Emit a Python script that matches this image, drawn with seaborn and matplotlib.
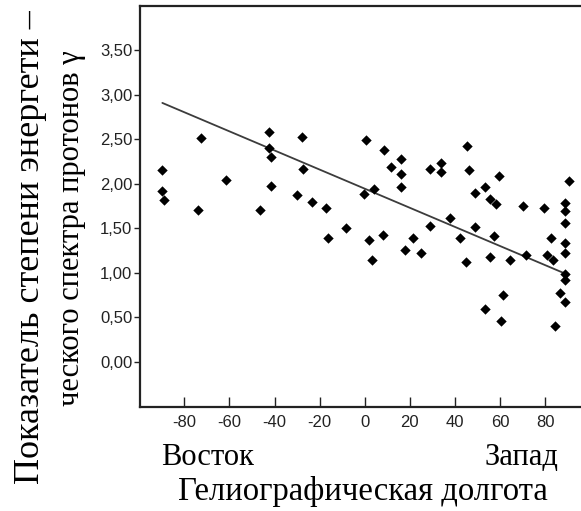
import numpy as np
import pandas as pd
import matplotlib
matplotlib.use("Agg")
import matplotlib.pyplot as plt
import seaborn as sns

# Heliographic longitude of the flare (deg)
longitude = [
    -89.7, -89.7, -88.9, -72.6, -73.8, -61.4, -42.3, -42.3, -41.6, -41.6,
    -46.5, -28.0, -27.3, -30.0, -23.3, -17.0, -16.2, -8.4,
    0.4, 8.4, 16.2, 11.4, 16.2, 16.2, -0.4, 4.3, 1.8, 8.1,
    3.4, 21.5, 17.7, 24.8, 28.8, 29.0, 33.6, 33.6,
    45.3, 46.2, 59.6, 48.7, 53.4, 55.6, 58.1, 69.9, 79.3, 88.8,
    88.8, 90.4, 88.8, 88.8, 88.8, 88.8, 88.8, 86.6, 88.8, 84.1,
    82.6, 80.8, 83.6, 71.5, 64.3, 61.2, 53.4, 60.3, 55.6, 44.7,
    57.2, 48.7, 42.3, 37.6,
]
# Proton spectrum power-law index gamma
gamma = [
    2.15, 1.92, 1.82, 2.51, 1.71, 2.04, 2.58, 2.40, 2.30, 1.98,
    1.71, 2.53, 2.17, 1.87, 1.79, 1.73, 1.39, 1.50,
    2.49, 2.38, 2.28, 2.19, 2.11, 1.96, 1.89, 1.94, 1.37, 1.43,
    1.14, 1.39, 1.26, 1.22, 1.53, 2.17, 2.23, 2.13,
    2.43, 2.15, 2.09, 1.90, 1.96, 1.83, 1.77, 1.75, 1.73, 1.78,
    1.70, 2.03, 1.56, 1.33, 1.22, 0.99, 0.92, 0.77, 0.67, 0.40,
    1.39, 1.20, 1.14, 1.20, 1.14, 0.75, 0.59, 0.46, 1.18, 1.12,
    1.41, 1.51, 1.39, 1.62,
]
# Trend line as drawn in the chart (end points)
trend_lon = [-89.7, 88.8]
trend_gamma = [2.91, 0.99]

x_ticks = [-80, -60, -40, -20, 0, 20, 40, 60, 80]
x_tick_labels = ["-80", "-60", "-40", "-20", "0", "20", "40", "60", "80"]
y_ticks = [0.0, 0.5, 1.0, 1.5, 2.0, 2.5, 3.0, 3.5]
y_tick_labels = ["0,00", "0,50", "1,00", "1,50", "2,00", "2,50", "3,00", "3,50"]

x_label = "Гелиографическая долгота"
east_label = "Восток"
west_label = "Запад"
y_label_1 = "Показатель степени энергети –"
y_label_2 = "ческого спектра протонов γ"

df = pd.DataFrame({"lon": longitude, "gamma": gamma})
trend = pd.DataFrame({"lon": trend_lon, "gamma": trend_gamma})

sns.set_style("ticks")
plt.rcParams["font.family"] = ["Liberation Sans", "DejaVu Sans"]

W, H = 581, 511
fig = plt.figure(figsize=(W / 100, H / 100), dpi=100)
fig.patch.set_facecolor("white")
ax = fig.add_axes([140 / W, 1 - 407 / H, 1 - 140 / W, (407 - 6) / H])

sns.lineplot(data=trend, x="lon", y="gamma", ax=ax, color="#3c3c3c", lw=1.3,
             zorder=1)
sns.scatterplot(data=df, x="lon", y="gamma", ax=ax, marker="D", color="black",
                s=28, linewidth=0, zorder=2)

ax.set_xlim(-99.6, 95.8)
ax.set_ylim(-0.51, 4.0)
ax.set_xticks(x_ticks)
ax.set_xticklabels(x_tick_labels)
ax.set_yticks(y_ticks)
ax.set_yticklabels(y_tick_labels)
ax.set_xlabel("")
ax.set_ylabel("")

for side in ["left", "top", "bottom"]:
    ax.spines[side].set_linewidth(1.6)
    ax.spines[side].set_color("#222222")
ax.spines["right"].set_visible(False)

ax.tick_params(axis="x", direction="in", length=7, width=1.0, pad=6,
               labelsize=12, colors="#222222")
ax.tick_params(axis="y", direction="out", length=4, width=1.0, pad=1.5,
               labelsize=12, colors="#222222")

serif = ["Liberation Serif", "DejaVu Serif"]
fig.text(207 / W, 1 - 465 / H, east_label, ha="center", va="baseline",
         fontsize=22, family=serif, color="black")
fig.text(522 / W, 1 - 465 / H, west_label, ha="center", va="baseline",
         fontsize=22, family=serif, color="black")
fig.text(363 / W, 1 - 500 / H, x_label, ha="center", va="baseline",
         fontsize=23.5, family=serif, color="black")
fig.text(31 / W, 1 - 10 / H, y_label_1, rotation=90, ha="center", va="top",
         fontsize=26, family=serif, color="black")
fig.text(72 / W, 1 - 50 / H, y_label_2, rotation=90, ha="center", va="top",
         fontsize=22, family=serif, color="black")

fig.savefig("out.png", dpi=100, facecolor="white")
